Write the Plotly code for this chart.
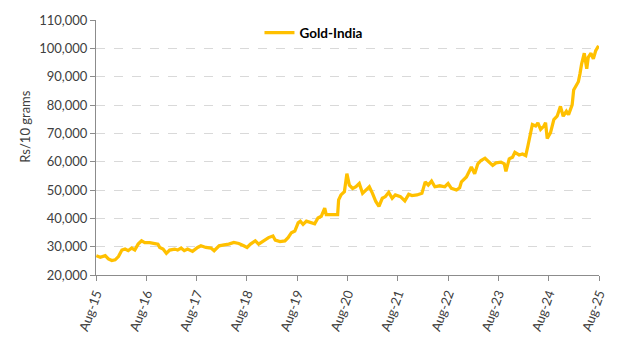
import plotly.graph_objects as go

dates = [
    "2015-08-03", "2015-09-01", "2015-10-07", "2015-10-30", "2015-11-24", "2015-12-18",
    "2016-01-11", "2016-02-05", "2016-02-28", "2016-03-22", "2016-04-16", "2016-05-09",
    "2016-06-02", "2016-06-27", "2016-07-20", "2016-08-25", "2016-10-01", "2016-10-24",
    "2016-11-06", "2016-11-30", "2016-12-24", "2017-01-17", "2017-02-22", "2017-03-16",
    "2017-04-10", "2017-05-03", "2017-05-27", "2017-07-02", "2017-08-08", "2017-09-01",
    "2017-10-07", "2017-11-13", "2017-12-06", "2018-01-11", "2018-02-16", "2018-03-22",
    "2018-04-28", "2018-06-03", "2018-07-09", "2018-08-02", "2018-08-27", "2018-10-01",
    "2018-10-25", "2018-11-30", "2019-01-05", "2019-02-06", "2019-02-23", "2019-03-29",
    "2019-05-04", "2019-05-27", "2019-06-20", "2019-07-15", "2019-08-08", "2019-08-24",
    "2019-09-13", "2019-10-07", "2019-11-12", "2019-12-06", "2019-12-30", "2020-01-23",
    "2020-02-17", "2020-02-28", "2020-03-10", "2020-05-21", "2020-05-28", "2020-06-14",
    "2020-07-09", "2020-07-27", "2020-08-14", "2020-09-07", "2020-10-01", "2020-10-25",
    "2020-11-18", "2020-12-12", "2021-01-06", "2021-01-29", "2021-02-22", "2021-03-17",
    "2021-04-10", "2021-05-03", "2021-05-27", "2021-06-21", "2021-07-14", "2021-08-20",
    "2021-09-21", "2021-10-19", "2021-11-12", "2021-12-18", "2022-01-23", "2022-02-16",
    "2022-03-10", "2022-04-03", "2022-04-27", "2022-06-02", "2022-07-08", "2022-08-01",
    "2022-08-25", "2022-10-01", "2022-10-24", "2022-11-06", "2022-12-12", "2023-01-17",
    "2023-02-10", "2023-03-05", "2023-03-28", "2023-04-26", "2023-05-27", "2023-06-21",
    "2023-07-15", "2023-08-20", "2023-09-13", "2023-09-25", "2023-10-19", "2023-11-12",
    "2023-11-29", "2023-12-30", "2024-01-23", "2024-02-16", "2024-03-03", "2024-03-22",
    "2024-04-04", "2024-04-28", "2024-05-14", "2024-06-03", "2024-06-27", "2024-07-09",
    "2024-07-21", "2024-08-14", "2024-09-07", "2024-10-01", "2024-10-25", "2024-11-14",
    "2024-12-07", "2024-12-23", "2025-01-18", "2025-01-29", "2025-02-15", "2025-03-04",
    "2025-03-16", "2025-03-28", "2025-04-16", "2025-05-04", "2025-05-15", "2025-06-04",
    "2025-06-21", "2025-07-08", "2025-07-29",
]

gold_india = [
    26800, 26250, 26840, 25700, 25100, 25350,
    26500, 28800, 29150, 28580, 29500, 28800,
    30900, 32050, 31450, 31450, 31100, 30900,
    29700, 29150, 27640, 28800, 29150, 28800,
    29500, 28580, 29150, 28330, 29720, 30300,
    29720, 29500, 28580, 30300, 30660, 30900,
    31460, 31110, 30300, 29720, 30900, 32050,
    30900, 32050, 33200, 33790, 32290, 31800,
    32050, 33200, 34930, 35520, 38400, 38990,
    37850, 39000, 38400, 38060, 40140, 40730,
    43610, 41320, 41320, 41320, 46530, 48260,
    49410, 55760, 51740, 50560, 51150, 52290,
    48820, 50000, 51150, 48820, 45940, 44200,
    47080, 47670, 49170, 47080, 48260, 47670,
    46180, 48470, 48020, 48260, 48820, 52880,
    51740, 53120, 51150, 51490, 51150, 52290,
    50560, 50000, 50800, 52880, 54620, 58090,
    55760, 59240, 60420, 61220, 59830, 58680,
    59580, 59830, 59240, 56600, 61000, 61560,
    63300, 62360, 62710, 62150, 65620, 69650,
    73120, 72570, 73720, 71390, 72570, 73720,
    68160, 70240, 74860, 76040, 79510, 76040,
    77780, 76600, 80070, 85290, 87010, 88200,
    91080, 94550, 98260, 92800, 96860, 98260,
    96280, 99170, 100900,
]

tick_dates = ["2015-08-01", "2016-08-01", "2017-08-01", "2018-08-01", "2019-08-01",
              "2020-08-01", "2021-08-01", "2022-08-01", "2023-08-01", "2024-08-01",
              "2025-08-01"]
tick_labels = ["Aug-15", "Aug-16", "Aug-17", "Aug-18", "Aug-19", "Aug-20",
               "Aug-21", "Aug-22", "Aug-23", "Aug-24", "Aug-25"]

FONT = "Lato"
TXT = "#404040"

fig = go.Figure()
fig.add_trace(go.Scatter(
    x=dates, y=gold_india, mode="lines", name="Gold-India",
    line=dict(color="#FFC000", width=3.25),
))

fig.update_layout(
    width=620, height=349,
    margin=dict(l=96, r=16, t=12, b=74),
    paper_bgcolor="white", plot_bgcolor="white",
    font=dict(family=FONT, size=13, color=TXT),
    showlegend=True,
    legend=dict(
        x=0.325, y=0.95, xanchor="left", yanchor="middle",
        bgcolor="rgba(0,0,0,0)", itemwidth=30,
        font=dict(family=FONT, size=13.5, color="#000000", weight="bold"),
    ),
    xaxis=dict(
        type="date",
        range=["2015-08-01", "2025-08-01"],
        tickmode="array", tickvals=tick_dates, ticktext=tick_labels,
        tickangle=-70,
        showgrid=False, zeroline=False,
        showline=True, linecolor="#8C8C8C", linewidth=1,
        ticks="outside", ticklen=5, tickcolor="#8C8C8C",
        tickfont=dict(family=FONT, size=13, color=TXT),
    ),
    yaxis=dict(
        range=[20000, 110000], dtick=10000, tickformat=",",
        showgrid=True, gridcolor="#D9D9D9", griddash="dash", gridwidth=1,
        zeroline=False,
        showline=True, linecolor="#8C8C8C", linewidth=1,
        ticks="outside", ticklen=5, tickcolor="#8C8C8C",
        tickfont=dict(family=FONT, size=13, color=TXT),
    ),
    annotations=[dict(
        text="Rs/10 grams", textangle=-90,
        xref="paper", yref="paper", x=-0.14, y=0.58,
        xanchor="center", yanchor="middle", showarrow=False,
        font=dict(family=FONT, size=13, color=TXT),
    )],
)

fig.write_html("out.html")
